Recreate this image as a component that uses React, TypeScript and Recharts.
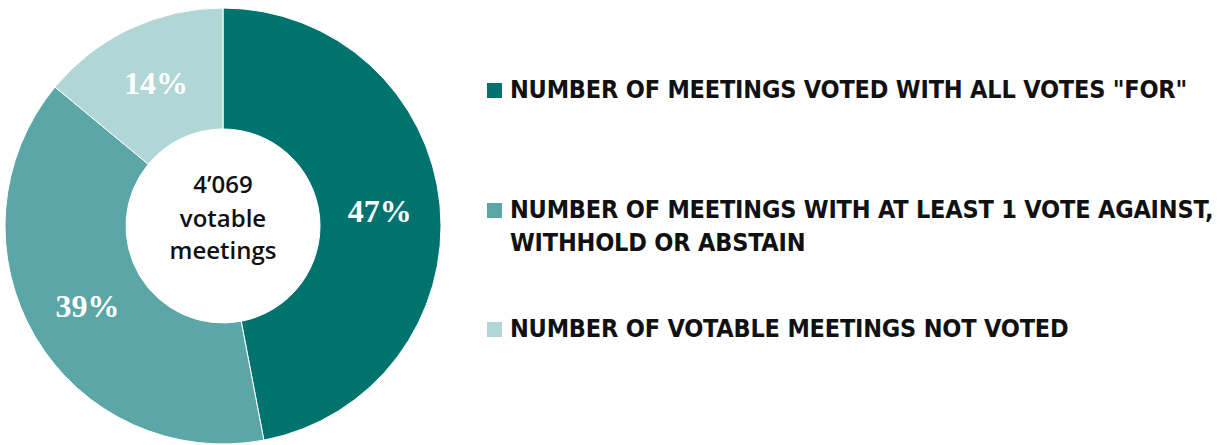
import { PieChart, Pie, Cell } from "recharts";

const categories = [
  'NUMBER OF MEETINGS VOTED WITH ALL VOTES "FOR"',
  "NUMBER OF MEETINGS WITH AT LEAST 1 VOTE AGAINST,\nWITHHOLD OR ABSTAIN",
  "NUMBER OF VOTABLE MEETINGS NOT VOTED",
];
const shares = [47, 39, 14];
const colors = ["#00736e", "#5ba6a6", "#b0d6d6"];
const centerLines = ["4\u2019069", "votable", "meetings"];

const data = categories.map((name, i) => ({ name, value: shares[i] }));

const RADIAN = Math.PI / 180;
const CX = 223;
const CY = 226;

function SliceLabel(props: any) {
  const { cx, cy, midAngle, innerRadius, outerRadius, value } = props;
  const r = (innerRadius + outerRadius) / 2;
  const x = cx + r * Math.cos(-midAngle * RADIAN);
  const y = cy + r * Math.sin(-midAngle * RADIAN);
  return (
    <text
      x={x}
      y={y}
      fill="#ffffff"
      textAnchor="middle"
      dominantBaseline="central"
      fontFamily='"Liberation Serif", "DejaVu Serif", serif'
      fontWeight={700}
      fontSize={32}
    >
      {`${value}%`}
    </text>
  );
}

function LegendList() {
  const tops = [80, 200, 319];
  return (
    <div style={{ position: "absolute", left: 487, top: 0, width: 743, height: 445 }}>
      {data.map((d, i) => (
        <div
          key={d.name}
          style={{
            position: "absolute",
            left: 0,
            top: tops[i],
            display: "flex",
            alignItems: "flex-start",
          }}
        >
          <div
            style={{
              width: 15,
              height: 15,
              marginTop: 3,
              marginRight: 8,
              background: colors[i],
              flexShrink: 0,
            }}
          />
          <div
            style={{
              fontFamily: '"Liberation Sans Narrow", "DejaVu Sans Condensed", "DejaVu Sans", sans-serif',
              fontWeight: 700,
              fontSize: 25,
              letterSpacing: -0.2,
              lineHeight: "33px",
              marginTop: -7,
              color: "#111111",
              whiteSpace: "pre",
            }}
          >
            {d.name}
          </div>
        </div>
      ))}
    </div>
  );
}

export default function App() {
  const offsets = [-43, -9, 23];
  return (
    <div
      style={{
        position: "absolute",
        left: 0,
        top: 0,
        width: 1230,
        height: 445,
        background: "#ffffff",
      }}
    >
      <PieChart width={1230} height={445} margin={{ top: 0, right: 0, bottom: 0, left: 0 }}>
        <Pie
          data={data}
          dataKey="value"
          nameKey="name"
          cx={CX}
          cy={CY}
          innerRadius={97}
          outerRadius={218}
          startAngle={90}
          endAngle={-270}
          stroke="#ffffff"
          strokeWidth={1}
          label={SliceLabel}
          labelLine={false}
          isAnimationActive={false}
        >
          {data.map((d, i) => (
            <Cell key={d.name} fill={colors[i]} />
          ))}
        </Pie>
        {centerLines.map((line, i) => (
          <text
            key={line}
            x={CX}
            y={CY + offsets[i]}
            textAnchor="middle"
            dominantBaseline="central"
            fill="#111111"
            fontFamily='"Open Sans", "Noto Sans", sans-serif'
            fontWeight={600}
            fontSize={24}
          >
            {line}
          </text>
        ))}
      </PieChart>
      <LegendList />
    </div>
  );
}
